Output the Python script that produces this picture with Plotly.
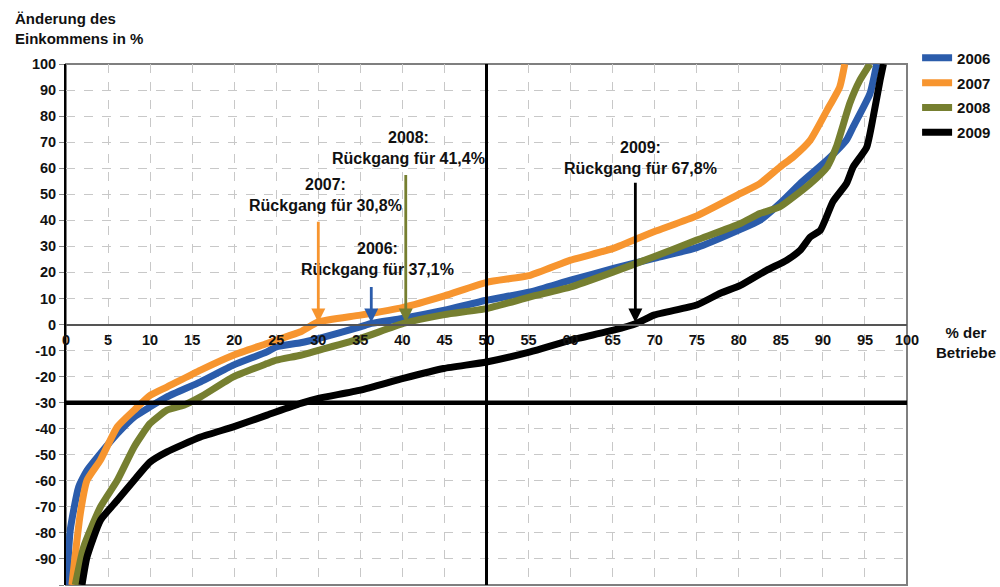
import plotly.graph_objects as go

# ---------------- data ----------------
years = ["2006", "2007", "2008", "2009"]
colors = ["#2b5cab", "#f7952f", "#767f30", "#000000"]

x_2006 = [0.1, 0.5, 1.5, 2.5, 4.1, 6.1, 8.1, 10, 12, 16, 19.9, 23.9, 25, 27.9, 30, 35, 36.3, 40, 45, 50,
          55.2, 60, 65.1, 69.8, 75, 80.2, 82.5, 84.9, 87.3, 90.5, 92.8, 93.6, 95.6, 96.4]
y_2006 = [-100, -79, -62.4, -56, -49.5, -41.9, -35.5, -31.6, -27.8, -22, -15.6, -10.5, -8.6, -7.0, -5.4, -0.9, 0.4, 2.3, 5.5, 9.3,
          12.5, 17, 21.5, 25.3, 29.5, 36.5, 40, 46.5, 54.1, 63.1, 70.8, 75.9, 88.7, 100]

x_2007 = [0.7, 1.7, 2.5, 4.1, 6.1, 8.1, 10, 12, 16, 19.9, 23.9, 25, 27.9, 30, 35, 40, 45, 50,
          55.2, 60, 65.1, 69.9, 75, 80.2, 82.5, 84.9, 86.5, 88.5, 90.5, 92, 92.6]
y_2007 = [-100, -72.6, -59.8, -52, -39.3, -32.9, -27.2, -24, -17.5, -11.8, -7.3, -6, -2.8, 1.0, 3.6, 6.5, 11, 16.2,
          18.9, 24.7, 29.2, 35.6, 41.7, 50.3, 54.1, 60.5, 64.4, 70.8, 82.3, 91.2, 100]

x_2008 = [1.1, 2.1, 4.1, 6.1, 8.1, 10, 12, 14, 16, 19.9, 23.9, 25, 27.9, 30, 35, 40.1, 45, 50,
          55.2, 60, 65.1, 69.9, 75, 80.2, 82.5, 84.9, 88.5, 90.5, 91.6, 93.2, 94.4, 95.6]
y_2008 = [-100, -85.4, -70, -59.8, -47, -38, -32.9, -31, -27.8, -20.1, -15, -13.7, -11.8, -9.9, -5.4, 0.4, 3.8, 6.1,
          10.6, 14.4, 20.2, 26, 32.4, 38.8, 42.6, 45.2, 54.1, 60.5, 68.2, 84.9, 93.8, 100]

x_2009 = [1.9, 2.5, 4.1, 6.1, 8.1, 10, 12, 16, 19.9, 23.9, 27.9, 30, 35, 40.1, 44.9, 50, 55.2, 60,
          65.1, 67.9, 69.9, 75, 77.8, 80.2, 83.3, 85.7, 87.3, 88.5, 89.7, 91.2, 92.8, 93.6, 95.2, 96, 96.8, 97.2]
y_2009 = [-100, -89.2, -75.1, -67.5, -59.8, -52.8, -48.9, -43.2, -39.3, -34.8, -30.3, -28.4, -25.2, -20.7, -16.9, -14.4, -10.5, -6,
          -2.2, 0.5, 3.6, 7.5, 12, 15, 20.8, 24.7, 28.5, 33.6, 36.2, 47.2, 54.1, 60.5, 68, 80, 93.8, 100]

xs = [x_2006, x_2007, x_2008, x_2009]
ys = [y_2006, y_2007, y_2008, y_2009]

x_ticks = list(range(0, 101, 5))
y_ticks = list(range(-100, 101, 10))

# annotation texts / arrows (arrow x in % of farms, arrow tail height)
ann_texts = ["2006:<br>Rückgang für 37,1%", "2007:<br>Rückgang für 30,8%",
             "2008:<br>Rückgang für 41,4%", "2009:<br>Rückgang für 67,8%"]
arrow_x = [36.3, 30.0, 40.4, 67.7]
arrow_top = [15, 40, 58, 55]

FONT = "Liberation Sans, Arial, sans-serif"

fig = go.Figure()
for yr, c, x, y in zip(years, colors, xs, ys):
    fig.add_trace(go.Scatter(x=x, y=y, mode="lines", name=yr, legendgroup=yr,
                             line=dict(color=c, width=7, shape="spline", smoothing=0.5),
                             cliponaxis=True))

# text label positions (centre of text block)
text_pos = [(36.98, 25.1), (30.84, 49.7), (40.7, 67.6), (68.27, 64.0)]
annotations = []
for t, (tx, ty), ax_, top, c in zip(ann_texts, text_pos, arrow_x, arrow_top, colors):
    annotations.append(dict(x=tx, y=ty, xref="x", yref="y", text="<b>" + t + "</b>", showarrow=False,
                            font=dict(family=FONT, size=16, color="#111"), align="center"))
    annotations.append(dict(x=ax_, y=0.8, ax=ax_, ay=top, xref="x", yref="y", axref="x", ayref="y",
                            text="", showarrow=True, arrowhead=2, arrowsize=1, arrowwidth=2.8,
                            arrowcolor=c))

annotations.append(dict(x=-0.0636, y=1.108, xref="paper", yref="paper", xanchor="left", yanchor="top",
                        text="<b>Änderung des<br>Einkommens in %</b>", showarrow=False, align="left",
                        font=dict(family=FONT, size=15, color="#111")))
annotations.append(dict(x=1.070, y=0.4648, xref="paper", yref="paper", xanchor="center", yanchor="middle",
                        text="<b>% der<br>Betriebe</b>", showarrow=False, align="center",
                        font=dict(family=FONT, size=15, color="#111")))

shapes = [
    dict(type="rect", xref="paper", yref="paper", x0=0, x1=1, y0=0, y1=1,
         line=dict(color="#7f7f7f", width=2), layer="below"),
    dict(type="line", xref="x", yref="y", x0=50, x1=50, y0=-100, y1=100,
         line=dict(color="black", width=3), layer="above"),
    dict(type="line", xref="x", yref="y", x0=0, x1=100, y0=-30, y1=-30,
         line=dict(color="black", width=4.5), layer="above"),
]

fig.update_layout(
    width=1000, height=587,
    margin=dict(l=65.5, r=93, t=64.3, b=2),
    plot_bgcolor="white", paper_bgcolor="white",
    font=dict(family=FONT, size=14.5, color="#111"),
    showlegend=True,
    legend=dict(x=1.012, y=1.043, xanchor="left", yanchor="top",
                font=dict(family=FONT, size=15, color="#111", weight="bold"),
                bgcolor="rgba(0,0,0,0)", itemwidth=30, tracegroupgap=2.3),
    annotations=annotations,
    shapes=shapes,
)

fig.update_xaxes(range=[0, 100], tickvals=x_ticks, ticktext=[str(v) for v in x_ticks],
                 showgrid=True, gridcolor="#c8c8c8", griddash="dash", gridwidth=1,
                 anchor="free", position=0.5, showline=True, linecolor="#555555", linewidth=2,
                 ticks="outside", ticklen=2, tickcolor="rgba(0,0,0,0)", zeroline=False,
                 tickfont=dict(family=FONT, size=14.5, color="#111", weight="bold"))
fig.update_yaxes(range=[-100, 100], tickvals=y_ticks, ticktext=[str(v) for v in y_ticks],
                 showgrid=True, gridcolor="#c8c8c8", griddash="dash", gridwidth=1,
                 showline=True, linecolor="black", linewidth=2, ticks="outside", ticklen=5,
                 tickcolor="#888888", zeroline=False,
                 tickfont=dict(family=FONT, size=14.5, color="#111", weight="bold"))

fig.write_html("out.html", config={"displayModeBar": False},
               post_script="document.body.style.margin='0';document.body.style.overflow='hidden';")
